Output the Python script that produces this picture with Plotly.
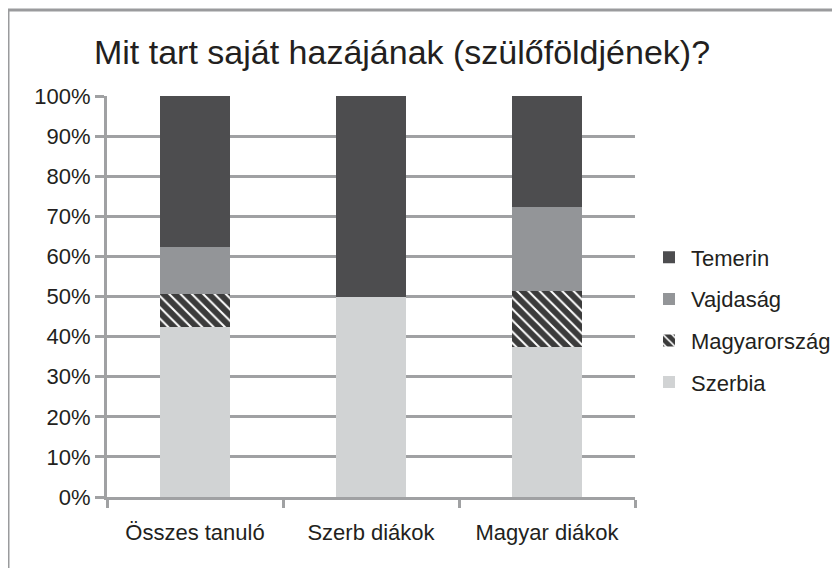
import plotly.graph_objects as go

categories = ["Összes tanuló", "Szerb diákok", "Magyar diákok"]
szerbia = [0.425, 0.50, 0.373]
magyarorszag = [0.081, 0.0, 0.140]
vajdasag = [0.117, 0.0, 0.210]
temerin = [0.377, 0.50, 0.277]
y_ticks = [i / 10 for i in range(11)]

OFF = 8  # page body margin
W, H = 840 - OFF, 568 - OFF
L, T = 107 - OFF, 96 - OFF
R, B = W - (635 - OFF), H - (497 - OFF)
pw, ph = W - L - R, H - T - B

def px_x(px):
    return (px - OFF - L) / pw

def px_y(py):
    return (H - B - (py - OFF)) / ph

fig = go.Figure()
fig.add_bar(name="Szerbia", x=categories, y=szerbia, marker_color="#d1d3d4",
            legendgroup="a", legendrank=4, width=0.4)
fig.add_bar(name="Magyarország", x=categories, y=magyarorszag,
            marker=dict(color="#3b3b3b",
                        pattern=dict(shape="\\", fgcolor="white", bgcolor="#3b3b3b",
                                     size=8, solidity=0.25, fillmode="replace")),
            legendgroup="b", legendrank=3, width=0.4)
fig.add_bar(name="Vajdaság", x=categories, y=vajdasag, marker_color="#939598",
            legendgroup="c", legendrank=2, width=0.4)
fig.add_bar(name="Temerin", x=categories, y=temerin, marker_color="#4d4d4f",
            legendgroup="d", legendrank=1, width=0.4)

fig.update_traces(marker_line_width=0)

fig.update_layout(
    barmode="stack",
    width=W, height=H,
    margin=dict(l=L, r=R, t=T, b=B, autoexpand=False),
    paper_bgcolor="white", plot_bgcolor="white",
    font=dict(family="Liberation Sans, Arial, sans-serif", size=22, color="#231f20"),
    title=dict(text="Mit tart saját hazájának (szülőföldjének)?",
               x=px_x(402), xref="paper", xanchor="center",
               y=1 - (52 - OFF) / H, yref="container", yanchor="middle",
               font=dict(size=34, color="#231f20")),
    legend=dict(traceorder="grouped", x=px_x(647), xanchor="left",
                y=px_y(320), yanchor="middle", tracegroupgap=10,
                font=dict(size=22), itemwidth=34, bgcolor="rgba(0,0,0,0)"),
    showlegend=True,
)

fig.update_yaxes(range=[0, 1], tickvals=y_ticks, tickformat=".0%",
                 showgrid=True, gridcolor="#a0a1a3", gridwidth=3,
                 showline=True, linecolor="#a0a1a3", linewidth=3,
                 ticks="outside", ticklen=9, tickwidth=3, tickcolor="#a0a1a3",
                 zeroline=False)
fig.update_xaxes(showline=True, linecolor="#a0a1a3", linewidth=3,
                 ticks="outside", tickson="boundaries", ticklen=8, tickwidth=3,
                 tickcolor="#a0a1a3", ticklabelstandoff=14, showgrid=False)

# frame lines (top and left)
fig.add_shape(type="line", xref="paper", yref="paper",
              x0=px_x(7), x1=px_x(845), y0=px_y(10), y1=px_y(10),
              line=dict(color="#9a9b9d", width=3))
fig.add_shape(type="line", xref="paper", yref="paper",
              x0=px_x(8), x1=px_x(8), y0=px_y(9), y1=px_y(575),
              line=dict(color="#9a9b9d", width=3))

fig.write_html("out.html")
